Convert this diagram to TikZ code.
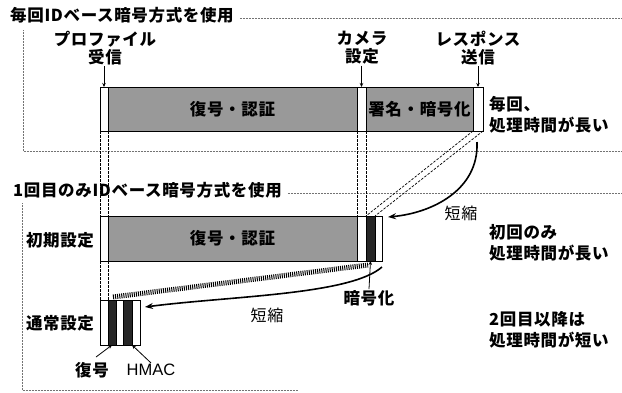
\documentclass[tikz,border=0pt]{standalone}
\usepackage{fontspec}
\setmainfont{Liberation Sans}
\newfontfamily\jp{Noto Sans CJK JP}[LetterSpace=4]
\usetikzlibrary{arrows.meta,calc}
\begin{document}
\begin{tikzpicture}[x=1pt,y=-1pt,
  seg/.style={draw, line width=0.8pt, inner sep=0pt, outer sep=0pt, anchor=north west, fill=white},
  wseg/.style={seg},
  gseg/.style={seg, fill=black!40, font=\jp\bfseries\fontsize{16.5}{18}\selectfont},
  kseg/.style={seg, fill=black!85},
  lab/.style={font=\jp\bfseries\fontsize{16.5}{18}\selectfont, align=center, inner sep=1pt},
  side/.style={font=\jp\bfseries\fontsize{16.5}{21}\selectfont, align=left, anchor=west, inner sep=0pt},
  ttl/.style={font=\jp\bfseries\fontsize{16.5}{18}\selectfont, anchor=west, inner sep=0pt},
  thin/.style={font=\jp\fontsize{16}{18}\selectfont, inner sep=0pt},
  frame/.style={line width=0.5pt, densely dotted, black!55},
  vdash/.style={line width=0.7pt, dash pattern=on 2.5pt off 1.5pt},
  labarrow/.style={line width=0.8pt, -{Stealth[length=4pt,width=3.5pt]}},
  curvearrow/.style={line width=1.6pt, -{Stealth[length=8pt,width=6pt]}},
  hatch/.style={line width=5pt, dash pattern=on 1pt off 1.1pt}
]
\useasboundingbox (0,0) rectangle (622,392);

% titles and frames
\node[ttl] (t1) at (10,15) {毎回IDベース暗号方式を使用};
\node[ttl] (t2) at (13,190) {1回目のみIDベース暗号方式を使用};
\coordinate (f1a) at (622,18);
\coordinate (f1b) at (23,30);
\coordinate (f1c) at (23,151);
\coordinate (f1d) at (622,151);
\coordinate (f2a) at (622,193);
\coordinate (f2b) at (22,203);
\coordinate (f2c) at (22,390);
\coordinate (f2d) at (298,390);
\draw[frame] ($(t1.east)+(6,3)$) -- (f1a);
\draw[frame] (f1b) -- (f1c) -- (f1d);
\draw[frame] ($(t2.east)+(6,3)$) -- (f2a);
\draw[frame] (f2b) -- (f2c) -- (f2d);

% row 1
\node[wseg, minimum width=8pt, minimum height=44pt] (r1a) at (100,87) {};
\node[gseg, minimum width=249pt, minimum height=44pt] (r1b) at (108,87) {復号・認証};
\node[wseg, minimum width=9pt, minimum height=44pt] (r1c) at (357,87) {};
\node[gseg, minimum width=107pt, minimum height=44pt] (r1d) at (366,87) {署名・暗号化};
\node[wseg, minimum width=10pt, minimum height=44pt] (r1e) at (473,87) {};

% row 2
\node[wseg, minimum width=8pt, minimum height=45pt] (r2a) at (100,216) {};
\node[gseg, minimum width=249pt, minimum height=45pt] (r2b) at (108,216) {復号・認証};
\node[wseg, minimum width=9pt, minimum height=45pt] (r2c) at (357,216) {};
\node[kseg, minimum width=9pt, minimum height=45pt] (r2d) at (366,216) {};
\node[wseg, minimum width=7pt, minimum height=45pt] (r2e) at (375,216) {};

% row 3
\node[wseg, minimum width=8pt, minimum height=45pt] (r3a) at (100,300) {};
\node[kseg, minimum width=8pt, minimum height=45pt] (r3b) at (108,300) {};
\node[wseg, minimum width=7pt, minimum height=45pt] (r3c) at (116,300) {};
\node[kseg, minimum width=9pt, minimum height=45pt] (r3d) at (123,300) {};
\node[wseg, minimum width=8pt, minimum height=45pt] (r3e) at (132,300) {};

% top labels
\node[lab] (lp) at (105,48) {プロファイル\\受信};
\node[lab] (lc) at (362,48) {カメラ\\設定};
\node[lab] (lr) at (478,48) {レスポンス\\送信};
\draw[labarrow] (r1a.north |- lp.south) -- (r1a.north);
\draw[labarrow] (r1c.north |- lc.south) -- (r1c.north);
\draw[labarrow] (r1e.north |- lr.south) -- (r1e.north);

% left labels
\node[lab] (l2) at (60,240) {初期設定};
\node[lab] (l3) at (60,323) {通常設定};

% right texts
\node[side] (s1) at (489,115) {毎回、\\処理時間が長い};
\node[side] (s2) at (489,243) {初回のみ\\処理時間が長い};
\node[side] (s3) at (489,330) {2回目以降は\\処理時間が短い};

% vertical dashed guides
\draw[vdash] (r1a.south west) -- (r2a.north west);
\draw[vdash] (r1a.south east) -- (r2a.north east);
\draw[vdash] (r2a.south west) -- (r3a.north west);
\draw[vdash] (r2a.south east) -- (r3a.north east);
\draw[vdash] (r1c.south west) -- (r2c.north west);
\draw[vdash] (r1c.south east) -- (r2c.north east);

% diagonal dashed projection
\draw[vdash] (r1e.south west) -- (r2d.north west);
\draw[vdash] (r1e.south east) -- (r2d.north east);

% hatched band
\coordinate (hb1) at (113,297);
\coordinate (hb2) at (368,265);
\draw[hatch] (hb1) -- (hb2);

% curved arrows
\coordinate (ua) at (477,142);
\coordinate (ub) at (388,217);
\draw[curvearrow] (ua) .. controls (479,190) and (432,213) .. (ub);
\node[thin] (k1) at (461,213) {短縮};
\coordinate (la) at (382,267);
\coordinate (lb) at (145,307);
\draw[curvearrow] (la) .. controls (350,295) and (230,296) .. (lb);
\node[thin] (k2) at (267,315) {短縮};

% bottom labels
\node[lab] (ango) at (369,298) {暗号化};
\draw[labarrow] (ango.north) -- (r2d.south);
\node[lab] (fk) at (92,370) {復号};
\node[font=\fontsize{16.5}{18}\selectfont, inner sep=1pt] (hm) at (151,370) {HMAC};
\coordinate (fa) at (96,357);
\draw[labarrow] (fa) -- (r3b.south);
\draw[labarrow] (hm.north) -- (r3d.south east);
\end{tikzpicture}
\end{document}
